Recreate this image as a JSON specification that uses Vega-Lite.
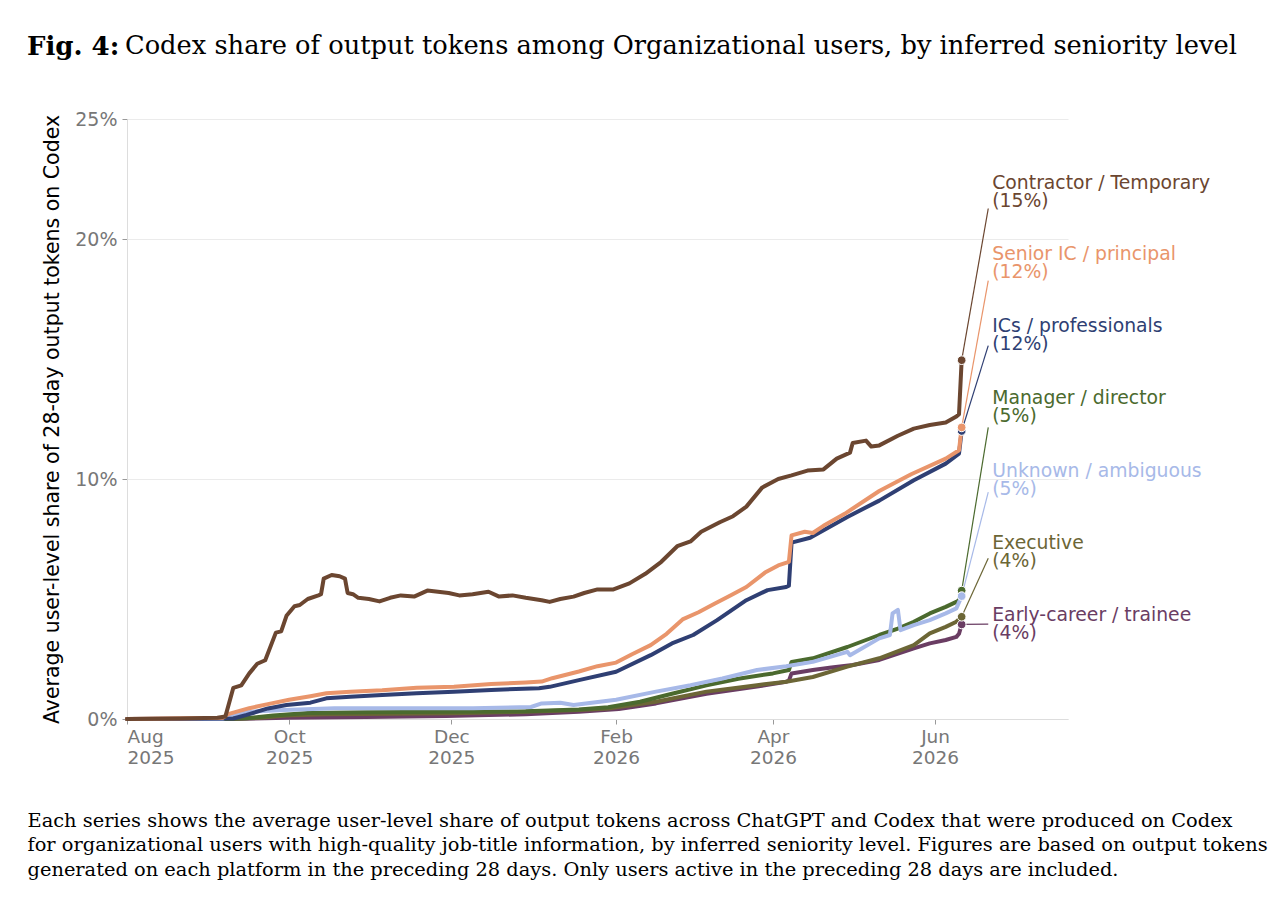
{
  "$schema": "https://vega.github.io/schema/vega-lite/v6.json",
  "width": 941,
  "height": 600,
  "autosize": "none",
  "padding": {"left": 127, "top": 119, "right": 218, "bottom": 193},
  "background": "white",
  "title": {
    "text": "Fig. 4:",
    "subtitle": "\u200b\u00a0\u00a0\u00a0\u00a0\u00a0\u00a0\u00a0\u00a0\u00a0\u00a0\u00a0\u00a0Codex share of output tokens among Organizational users, by inferred seniority level",
    "anchor": "start",
    "frame": "group",
    "orient": "top",
    "dx": -100,
    "offset": 49,
    "font": "DejaVu Serif",
    "fontSize": 26,
    "fontWeight": "bold",
    "lineHeight": 26,
    "color": "black",
    "subtitleFont": "DejaVu Serif",
    "subtitleFontSize": 25.7,
    "subtitleFontWeight": "normal",
    "subtitleColor": "black",
    "subtitleLineHeight": 26,
    "subtitlePadding": -26
  },
  "datasets": {
    "series": [
      {"s": "Early-career / trainee", "d": "2025/08/01", "v": 0},
      {"s": "Early-career / trainee", "d": "2025/09/10", "v": 0},
      {"s": "Early-career / trainee", "d": "2025/09/30", "v": 0.05},
      {"s": "Early-career / trainee", "d": "2025/10/30", "v": 0.08},
      {"s": "Early-career / trainee", "d": "2025/11/29", "v": 0.12},
      {"s": "Early-career / trainee", "d": "2025/12/29", "v": 0.2},
      {"s": "Early-career / trainee", "d": "2026/01/18", "v": 0.3},
      {"s": "Early-career / trainee", "d": "2026/02/02", "v": 0.42},
      {"s": "Early-career / trainee", "d": "2026/02/16", "v": 0.65},
      {"s": "Early-career / trainee", "d": "2026/03/07", "v": 1.05},
      {"s": "Early-career / trainee", "d": "2026/03/26", "v": 1.35},
      {"s": "Early-career / trainee", "d": "2026/04/06", "v": 1.55},
      {"s": "Early-career / trainee", "d": "2026/04/07", "v": 1.6},
      {"s": "Early-career / trainee", "d": "2026/04/08", "v": 1.9},
      {"s": "Early-career / trainee", "d": "2026/04/16", "v": 2.04},
      {"s": "Early-career / trainee", "d": "2026/04/23", "v": 2.15},
      {"s": "Early-career / trainee", "d": "2026/05/01", "v": 2.25},
      {"s": "Early-career / trainee", "d": "2026/05/11", "v": 2.46},
      {"s": "Early-career / trainee", "d": "2026/05/24", "v": 2.94},
      {"s": "Early-career / trainee", "d": "2026/05/30", "v": 3.15},
      {"s": "Early-career / trainee", "d": "2026/06/05", "v": 3.29},
      {"s": "Early-career / trainee", "d": "2026/06/09", "v": 3.42},
      {"s": "Early-career / trainee", "d": "2026/06/10", "v": 3.55},
      {"s": "Early-career / trainee", "d": "2026/06/11", "v": 3.94},

      {"s": "Executive", "d": "2025/08/01", "v": 0},
      {"s": "Executive", "d": "2025/09/05", "v": 0},
      {"s": "Executive", "d": "2025/09/20", "v": 0.05},
      {"s": "Executive", "d": "2025/09/30", "v": 0.15},
      {"s": "Executive", "d": "2025/10/15", "v": 0.2},
      {"s": "Executive", "d": "2025/11/09", "v": 0.22},
      {"s": "Executive", "d": "2025/12/02", "v": 0.24},
      {"s": "Executive", "d": "2025/12/29", "v": 0.3},
      {"s": "Executive", "d": "2026/01/18", "v": 0.38},
      {"s": "Executive", "d": "2026/01/29", "v": 0.44},
      {"s": "Executive", "d": "2026/02/16", "v": 0.72},
      {"s": "Executive", "d": "2026/03/07", "v": 1.14},
      {"s": "Executive", "d": "2026/03/26", "v": 1.41},
      {"s": "Executive", "d": "2026/04/06", "v": 1.55},
      {"s": "Executive", "d": "2026/04/16", "v": 1.75},
      {"s": "Executive", "d": "2026/04/29", "v": 2.18},
      {"s": "Executive", "d": "2026/05/11", "v": 2.53},
      {"s": "Executive", "d": "2026/05/24", "v": 3.08},
      {"s": "Executive", "d": "2026/05/30", "v": 3.57},
      {"s": "Executive", "d": "2026/06/05", "v": 3.84},
      {"s": "Executive", "d": "2026/06/09", "v": 4.05},
      {"s": "Executive", "d": "2026/06/11", "v": 4.26},

      {"s": "Manager / director", "d": "2025/08/01", "v": 0},
      {"s": "Manager / director", "d": "2025/09/05", "v": 0},
      {"s": "Manager / director", "d": "2025/09/15", "v": 0.03},
      {"s": "Manager / director", "d": "2025/09/25", "v": 0.15},
      {"s": "Manager / director", "d": "2025/10/08", "v": 0.25},
      {"s": "Manager / director", "d": "2025/10/30", "v": 0.28},
      {"s": "Manager / director", "d": "2025/11/29", "v": 0.3},
      {"s": "Manager / director", "d": "2025/12/29", "v": 0.32},
      {"s": "Manager / director", "d": "2026/01/18", "v": 0.4},
      {"s": "Manager / director", "d": "2026/01/29", "v": 0.49},
      {"s": "Manager / director", "d": "2026/02/10", "v": 0.72},
      {"s": "Manager / director", "d": "2026/02/22", "v": 1.05},
      {"s": "Manager / director", "d": "2026/03/07", "v": 1.4},
      {"s": "Manager / director", "d": "2026/03/19", "v": 1.68},
      {"s": "Manager / director", "d": "2026/04/01", "v": 1.9},
      {"s": "Manager / director", "d": "2026/04/07", "v": 2.04},
      {"s": "Manager / director", "d": "2026/04/08", "v": 2.38},
      {"s": "Manager / director", "d": "2026/04/16", "v": 2.53},
      {"s": "Manager / director", "d": "2026/04/29", "v": 3.0},
      {"s": "Manager / director", "d": "2026/05/11", "v": 3.5},
      {"s": "Manager / director", "d": "2026/05/18", "v": 3.77},
      {"s": "Manager / director", "d": "2026/05/24", "v": 4.05},
      {"s": "Manager / director", "d": "2026/05/30", "v": 4.4},
      {"s": "Manager / director", "d": "2026/06/05", "v": 4.67},
      {"s": "Manager / director", "d": "2026/06/09", "v": 4.88},
      {"s": "Manager / director", "d": "2026/06/10", "v": 4.95},
      {"s": "Manager / director", "d": "2026/06/11", "v": 5.35},

      {"s": "Unknown / ambiguous", "d": "2025/08/01", "v": 0},
      {"s": "Unknown / ambiguous", "d": "2025/09/06", "v": 0},
      {"s": "Unknown / ambiguous", "d": "2025/09/09", "v": 0.17},
      {"s": "Unknown / ambiguous", "d": "2025/09/16", "v": 0.3},
      {"s": "Unknown / ambiguous", "d": "2025/09/29", "v": 0.37},
      {"s": "Unknown / ambiguous", "d": "2025/10/18", "v": 0.45},
      {"s": "Unknown / ambiguous", "d": "2025/11/12", "v": 0.45},
      {"s": "Unknown / ambiguous", "d": "2025/12/09", "v": 0.45},
      {"s": "Unknown / ambiguous", "d": "2025/12/31", "v": 0.5},
      {"s": "Unknown / ambiguous", "d": "2026/01/04", "v": 0.65},
      {"s": "Unknown / ambiguous", "d": "2026/01/11", "v": 0.68},
      {"s": "Unknown / ambiguous", "d": "2026/01/16", "v": 0.58},
      {"s": "Unknown / ambiguous", "d": "2026/02/01", "v": 0.8},
      {"s": "Unknown / ambiguous", "d": "2026/02/16", "v": 1.14},
      {"s": "Unknown / ambiguous", "d": "2026/03/01", "v": 1.41},
      {"s": "Unknown / ambiguous", "d": "2026/03/13", "v": 1.69},
      {"s": "Unknown / ambiguous", "d": "2026/03/26", "v": 2.04},
      {"s": "Unknown / ambiguous", "d": "2026/04/06", "v": 2.2},
      {"s": "Unknown / ambiguous", "d": "2026/04/16", "v": 2.38},
      {"s": "Unknown / ambiguous", "d": "2026/04/29", "v": 2.8},
      {"s": "Unknown / ambiguous", "d": "2026/04/30", "v": 2.66},
      {"s": "Unknown / ambiguous", "d": "2026/05/11", "v": 3.36},
      {"s": "Unknown / ambiguous", "d": "2026/05/15", "v": 3.5},
      {"s": "Unknown / ambiguous", "d": "2026/05/16", "v": 4.4},
      {"s": "Unknown / ambiguous", "d": "2026/05/18", "v": 4.55},
      {"s": "Unknown / ambiguous", "d": "2026/05/19", "v": 3.7},
      {"s": "Unknown / ambiguous", "d": "2026/05/24", "v": 3.91},
      {"s": "Unknown / ambiguous", "d": "2026/05/30", "v": 4.12},
      {"s": "Unknown / ambiguous", "d": "2026/06/05", "v": 4.4},
      {"s": "Unknown / ambiguous", "d": "2026/06/09", "v": 4.61},
      {"s": "Unknown / ambiguous", "d": "2026/06/11", "v": 5.12},

      {"s": "ICs / professionals", "d": "2025/08/01", "v": 0},
      {"s": "ICs / professionals", "d": "2025/09/10", "v": 0.02},
      {"s": "ICs / professionals", "d": "2025/09/15", "v": 0.17},
      {"s": "ICs / professionals", "d": "2025/09/23", "v": 0.44},
      {"s": "ICs / professionals", "d": "2025/09/30", "v": 0.58},
      {"s": "ICs / professionals", "d": "2025/10/09", "v": 0.68},
      {"s": "ICs / professionals", "d": "2025/10/15", "v": 0.86},
      {"s": "ICs / professionals", "d": "2025/10/24", "v": 0.93},
      {"s": "ICs / professionals", "d": "2025/11/05", "v": 1.0},
      {"s": "ICs / professionals", "d": "2025/11/18", "v": 1.07},
      {"s": "ICs / professionals", "d": "2025/12/02", "v": 1.14},
      {"s": "ICs / professionals", "d": "2025/12/16", "v": 1.21},
      {"s": "ICs / professionals", "d": "2026/01/03", "v": 1.28},
      {"s": "ICs / professionals", "d": "2026/01/07", "v": 1.34},
      {"s": "ICs / professionals", "d": "2026/01/18", "v": 1.62},
      {"s": "ICs / professionals", "d": "2026/02/01", "v": 1.97},
      {"s": "ICs / professionals", "d": "2026/02/14", "v": 2.66},
      {"s": "ICs / professionals", "d": "2026/02/22", "v": 3.15},
      {"s": "ICs / professionals", "d": "2026/03/02", "v": 3.5},
      {"s": "ICs / professionals", "d": "2026/03/11", "v": 4.12},
      {"s": "ICs / professionals", "d": "2026/03/22", "v": 4.95},
      {"s": "ICs / professionals", "d": "2026/03/30", "v": 5.37},
      {"s": "ICs / professionals", "d": "2026/04/06", "v": 5.5},
      {"s": "ICs / professionals", "d": "2026/04/07", "v": 5.55},
      {"s": "ICs / professionals", "d": "2026/04/08", "v": 7.35},
      {"s": "ICs / professionals", "d": "2026/04/15", "v": 7.55},
      {"s": "ICs / professionals", "d": "2026/04/29", "v": 8.42},
      {"s": "ICs / professionals", "d": "2026/05/11", "v": 9.1},
      {"s": "ICs / professionals", "d": "2026/05/24", "v": 9.95},
      {"s": "ICs / professionals", "d": "2026/06/05", "v": 10.64},
      {"s": "ICs / professionals", "d": "2026/06/10", "v": 11.06},
      {"s": "ICs / professionals", "d": "2026/06/11", "v": 12.0},

      {"s": "Senior IC / principal", "d": "2025/08/01", "v": 0},
      {"s": "Senior IC / principal", "d": "2025/09/06", "v": 0.05},
      {"s": "Senior IC / principal", "d": "2025/09/08", "v": 0.2},
      {"s": "Senior IC / principal", "d": "2025/09/16", "v": 0.45},
      {"s": "Senior IC / principal", "d": "2025/09/23", "v": 0.62},
      {"s": "Senior IC / principal", "d": "2025/10/01", "v": 0.8},
      {"s": "Senior IC / principal", "d": "2025/10/09", "v": 0.95},
      {"s": "Senior IC / principal", "d": "2025/10/15", "v": 1.07},
      {"s": "Senior IC / principal", "d": "2025/10/24", "v": 1.14},
      {"s": "Senior IC / principal", "d": "2025/11/05", "v": 1.2},
      {"s": "Senior IC / principal", "d": "2025/11/18", "v": 1.3},
      {"s": "Senior IC / principal", "d": "2025/12/02", "v": 1.34},
      {"s": "Senior IC / principal", "d": "2025/12/16", "v": 1.46},
      {"s": "Senior IC / principal", "d": "2025/12/29", "v": 1.52},
      {"s": "Senior IC / principal", "d": "2026/01/04", "v": 1.56},
      {"s": "Senior IC / principal", "d": "2026/01/08", "v": 1.7},
      {"s": "Senior IC / principal", "d": "2026/01/18", "v": 1.98},
      {"s": "Senior IC / principal", "d": "2026/01/25", "v": 2.2},
      {"s": "Senior IC / principal", "d": "2026/02/01", "v": 2.35},
      {"s": "Senior IC / principal", "d": "2026/02/07", "v": 2.7},
      {"s": "Senior IC / principal", "d": "2026/02/14", "v": 3.08},
      {"s": "Senior IC / principal", "d": "2026/02/20", "v": 3.55},
      {"s": "Senior IC / principal", "d": "2026/02/26", "v": 4.15},
      {"s": "Senior IC / principal", "d": "2026/03/04", "v": 4.45},
      {"s": "Senior IC / principal", "d": "2026/03/10", "v": 4.8},
      {"s": "Senior IC / principal", "d": "2026/03/16", "v": 5.15},
      {"s": "Senior IC / principal", "d": "2026/03/22", "v": 5.5},
      {"s": "Senior IC / principal", "d": "2026/03/29", "v": 6.1},
      {"s": "Senior IC / principal", "d": "2026/04/03", "v": 6.4},
      {"s": "Senior IC / principal", "d": "2026/04/07", "v": 6.55},
      {"s": "Senior IC / principal", "d": "2026/04/08", "v": 7.65},
      {"s": "Senior IC / principal", "d": "2026/04/13", "v": 7.8},
      {"s": "Senior IC / principal", "d": "2026/04/16", "v": 7.75},
      {"s": "Senior IC / principal", "d": "2026/04/20", "v": 8.05},
      {"s": "Senior IC / principal", "d": "2026/04/28", "v": 8.55},
      {"s": "Senior IC / principal", "d": "2026/05/11", "v": 9.5},
      {"s": "Senior IC / principal", "d": "2026/05/23", "v": 10.2},
      {"s": "Senior IC / principal", "d": "2026/06/05", "v": 10.85},
      {"s": "Senior IC / principal", "d": "2026/06/10", "v": 11.2},
      {"s": "Senior IC / principal", "d": "2026/06/11", "v": 12.15},

      {"s": "Contractor / Temporary", "d": "2025/08/01", "v": 0},
      {"s": "Contractor / Temporary", "d": "2025/08/21", "v": 0.02},
      {"s": "Contractor / Temporary", "d": "2025/09/04", "v": 0.05},
      {"s": "Contractor / Temporary", "d": "2025/09/07", "v": 0.1},
      {"s": "Contractor / Temporary", "d": "2025/09/10", "v": 1.3},
      {"s": "Contractor / Temporary", "d": "2025/09/13", "v": 1.4},
      {"s": "Contractor / Temporary", "d": "2025/09/16", "v": 1.9},
      {"s": "Contractor / Temporary", "d": "2025/09/19", "v": 2.3},
      {"s": "Contractor / Temporary", "d": "2025/09/22", "v": 2.45},
      {"s": "Contractor / Temporary", "d": "2025/09/26", "v": 3.6},
      {"s": "Contractor / Temporary", "d": "2025/09/28", "v": 3.65},
      {"s": "Contractor / Temporary", "d": "2025/09/30", "v": 4.3},
      {"s": "Contractor / Temporary", "d": "2025/10/03", "v": 4.7},
      {"s": "Contractor / Temporary", "d": "2025/10/05", "v": 4.75},
      {"s": "Contractor / Temporary", "d": "2025/10/08", "v": 5.0},
      {"s": "Contractor / Temporary", "d": "2025/10/12", "v": 5.15},
      {"s": "Contractor / Temporary", "d": "2025/10/13", "v": 5.2},
      {"s": "Contractor / Temporary", "d": "2025/10/14", "v": 5.85},
      {"s": "Contractor / Temporary", "d": "2025/10/17", "v": 6.0},
      {"s": "Contractor / Temporary", "d": "2025/10/20", "v": 5.95},
      {"s": "Contractor / Temporary", "d": "2025/10/22", "v": 5.85},
      {"s": "Contractor / Temporary", "d": "2025/10/23", "v": 5.25},
      {"s": "Contractor / Temporary", "d": "2025/10/25", "v": 5.2},
      {"s": "Contractor / Temporary", "d": "2025/10/27", "v": 5.05},
      {"s": "Contractor / Temporary", "d": "2025/10/31", "v": 5.0},
      {"s": "Contractor / Temporary", "d": "2025/11/04", "v": 4.9},
      {"s": "Contractor / Temporary", "d": "2025/11/08", "v": 5.05},
      {"s": "Contractor / Temporary", "d": "2025/11/12", "v": 5.15},
      {"s": "Contractor / Temporary", "d": "2025/11/17", "v": 5.1},
      {"s": "Contractor / Temporary", "d": "2025/11/22", "v": 5.35},
      {"s": "Contractor / Temporary", "d": "2025/11/26", "v": 5.3},
      {"s": "Contractor / Temporary", "d": "2025/11/30", "v": 5.25},
      {"s": "Contractor / Temporary", "d": "2025/12/04", "v": 5.15},
      {"s": "Contractor / Temporary", "d": "2025/12/09", "v": 5.2},
      {"s": "Contractor / Temporary", "d": "2025/12/15", "v": 5.3},
      {"s": "Contractor / Temporary", "d": "2025/12/19", "v": 5.1},
      {"s": "Contractor / Temporary", "d": "2025/12/24", "v": 5.15},
      {"s": "Contractor / Temporary", "d": "2025/12/29", "v": 5.05},
      {"s": "Contractor / Temporary", "d": "2026/01/04", "v": 4.95},
      {"s": "Contractor / Temporary", "d": "2026/01/07", "v": 4.88},
      {"s": "Contractor / Temporary", "d": "2026/01/11", "v": 5.0},
      {"s": "Contractor / Temporary", "d": "2026/01/16", "v": 5.1},
      {"s": "Contractor / Temporary", "d": "2026/01/20", "v": 5.25},
      {"s": "Contractor / Temporary", "d": "2026/01/25", "v": 5.4},
      {"s": "Contractor / Temporary", "d": "2026/01/31", "v": 5.4},
      {"s": "Contractor / Temporary", "d": "2026/02/06", "v": 5.65},
      {"s": "Contractor / Temporary", "d": "2026/02/12", "v": 6.05},
      {"s": "Contractor / Temporary", "d": "2026/02/18", "v": 6.55},
      {"s": "Contractor / Temporary", "d": "2026/02/24", "v": 7.2},
      {"s": "Contractor / Temporary", "d": "2026/03/01", "v": 7.4},
      {"s": "Contractor / Temporary", "d": "2026/03/05", "v": 7.8},
      {"s": "Contractor / Temporary", "d": "2026/03/12", "v": 8.2},
      {"s": "Contractor / Temporary", "d": "2026/03/17", "v": 8.45},
      {"s": "Contractor / Temporary", "d": "2026/03/22", "v": 8.85},
      {"s": "Contractor / Temporary", "d": "2026/03/28", "v": 9.65},
      {"s": "Contractor / Temporary", "d": "2026/04/03", "v": 10.0},
      {"s": "Contractor / Temporary", "d": "2026/04/08", "v": 10.15},
      {"s": "Contractor / Temporary", "d": "2026/04/14", "v": 10.35},
      {"s": "Contractor / Temporary", "d": "2026/04/20", "v": 10.4},
      {"s": "Contractor / Temporary", "d": "2026/04/25", "v": 10.85},
      {"s": "Contractor / Temporary", "d": "2026/04/30", "v": 11.1},
      {"s": "Contractor / Temporary", "d": "2026/05/01", "v": 11.5},
      {"s": "Contractor / Temporary", "d": "2026/05/06", "v": 11.6},
      {"s": "Contractor / Temporary", "d": "2026/05/08", "v": 11.35},
      {"s": "Contractor / Temporary", "d": "2026/05/11", "v": 11.4},
      {"s": "Contractor / Temporary", "d": "2026/05/18", "v": 11.8},
      {"s": "Contractor / Temporary", "d": "2026/05/24", "v": 12.1},
      {"s": "Contractor / Temporary", "d": "2026/05/30", "v": 12.25},
      {"s": "Contractor / Temporary", "d": "2026/06/05", "v": 12.35},
      {"s": "Contractor / Temporary", "d": "2026/06/09", "v": 12.6},
      {"s": "Contractor / Temporary", "d": "2026/06/10", "v": 12.7},
      {"s": "Contractor / Temporary", "d": "2026/06/11", "v": 14.95}
    ],
    "labels": [
      {"s": "Early-career / trainee", "pct": "(4%)", "xe": "2026/06/11", "xl": "2026/06/21", "ev": 3.94, "ey": 3.95, "ly": 3.95},
      {"s": "Executive", "pct": "(4%)", "xe": "2026/06/11", "xl": "2026/06/21", "ev": 4.26, "ey": 6.7, "ly": 6.95},
      {"s": "Manager / director", "pct": "(5%)", "xe": "2026/06/11", "xl": "2026/06/21", "ev": 5.35, "ey": 12.15, "ly": 12.98},
      {"s": "Unknown / ambiguous", "pct": "(5%)", "xe": "2026/06/11", "xl": "2026/06/21", "ev": 5.12, "ey": 9.45, "ly": 9.95},
      {"s": "ICs / professionals", "pct": "(12%)", "xe": "2026/06/11", "xl": "2026/06/21", "ev": 12.0, "ey": 15.56, "ly": 15.98},
      {"s": "Senior IC / principal", "pct": "(12%)", "xe": "2026/06/11", "xl": "2026/06/21", "ev": 12.15, "ey": 18.27, "ly": 18.98},
      {"s": "Contractor / Temporary", "pct": "(15%)", "xe": "2026/06/11", "xl": "2026/06/21", "ev": 14.95, "ey": 21.27, "ly": 21.94}
    ]
  },
  "encoding": {
    "color": {
      "field": "s",
      "type": "nominal",
      "legend": null,
      "scale": {
        "domain": ["Early-career / trainee", "Executive", "Manager / director", "Unknown / ambiguous", "ICs / professionals", "Senior IC / principal", "Contractor / Temporary"],
        "range": ["#6a3d63", "#6c6636", "#4b6a2e", "#a7b9e8", "#2f3f73", "#e9956b", "#6b4630"]
      }
    }
  },
  "layer": [
    {
      "data": {"name": "series"},
      "mark": {"type": "line", "strokeWidth": 4, "strokeJoin": "round", "strokeCap": "round"},
      "encoding": {
        "x": {
          "field": "d",
          "type": "temporal",
          "scale": {"domain": [{"year": 2025, "month": 8, "date": 1}, {"year": 2026, "month": 7, "date": 21}]},
          "axis": {
            "values": [
              {"year": 2025, "month": 8, "date": 1},
              {"year": 2025, "month": 10, "date": 1},
              {"year": 2025, "month": 12, "date": 1},
              {"year": 2026, "month": 2, "date": 1},
              {"year": 2026, "month": 4, "date": 1},
              {"year": 2026, "month": 6, "date": 1}
            ],
            "labelExpr": "[timeFormat(datum.value, '%b'), timeFormat(datum.value, '%Y')]",
            "labelLineHeight": 21,
            "labelPadding": 3,
            "labelFontSize": 18.5,
            "labelColor": "#777777",
            "grid": false,
            "domainColor": "#dddddd",
            "tickColor": "#999999",
            "tickSize": 5,
            "title": [
              "Each series shows the average user-level share of output tokens across ChatGPT and Codex that were produced on Codex",
              "for organizational users with high-quality job-title information, by inferred seniority level. Figures are based on output tokens",
              "generated on each platform in the preceding 28 days. Only users active in the preceding 28 days are included."
            ],
            "titleFont": "DejaVu Serif",
            "titleFontSize": 19.4,
            "titleFontWeight": "normal",
            "titleColor": "black",
            "titleLineHeight": 24.5,
            "titleAnchor": "start",
            "titleAlign": "left",
            "titleBaseline": "top",
            "titleX": -100,
            "titleY": 92
          }
        },
        "y": {
          "field": "v",
          "type": "quantitative",
          "scale": {"domain": [0, 25], "nice": false},
          "axis": {
            "values": [0, 10, 20, 25],
            "labelExpr": "datum.value + '%'",
            "labelFontSize": 19,
            "labelColor": "#777777",
            "labelPadding": 5,
            "gridColor": "#ebebeb",
            "domainColor": "#dddddd",
            "tickColor": "#999999",
            "tickSize": 5,
            "title": "Average user-level share of 28-day output tokens on Codex",
            "titleFontSize": 20.5,
            "titleFontWeight": "normal",
            "titleColor": "black",
            "titleX": -65,
            "titleBaseline": "bottom"
          }
        }
      }
    },
    {
      "data": {"name": "labels"},
      "mark": {"type": "rule", "strokeWidth": 1.2},
      "encoding": {
        "x": {"field": "xe", "type": "temporal"},
        "x2": {"field": "xl"},
        "y": {"field": "ev", "type": "quantitative"},
        "y2": {"field": "ey"}
      }
    },
    {
      "data": {"name": "labels"},
      "mark": {"type": "point", "shape": "circle", "filled": true, "size": 75, "opacity": 1, "stroke": "white", "strokeWidth": 1},
      "encoding": {
        "x": {"field": "xe", "type": "temporal"},
        "y": {"field": "ev", "type": "quantitative"}
      }
    },
    {
      "data": {"name": "labels"},
      "mark": {"type": "text", "align": "left", "baseline": "middle", "dx": 4, "dy": -9.5, "fontSize": 18.8},
      "encoding": {
        "x": {"field": "xl", "type": "temporal"},
        "y": {"field": "ly", "type": "quantitative"},
        "text": {"field": "s"}
      }
    },
    {
      "data": {"name": "labels"},
      "mark": {"type": "text", "align": "left", "baseline": "middle", "dx": 4, "dy": 9, "fontSize": 18.8},
      "encoding": {
        "x": {"field": "xl", "type": "temporal"},
        "y": {"field": "ly", "type": "quantitative"},
        "text": {"field": "pct"}
      }
    }
  ],
  "config": {
    "font": "DejaVu Sans",
    "view": {"stroke": null}
  }
}
